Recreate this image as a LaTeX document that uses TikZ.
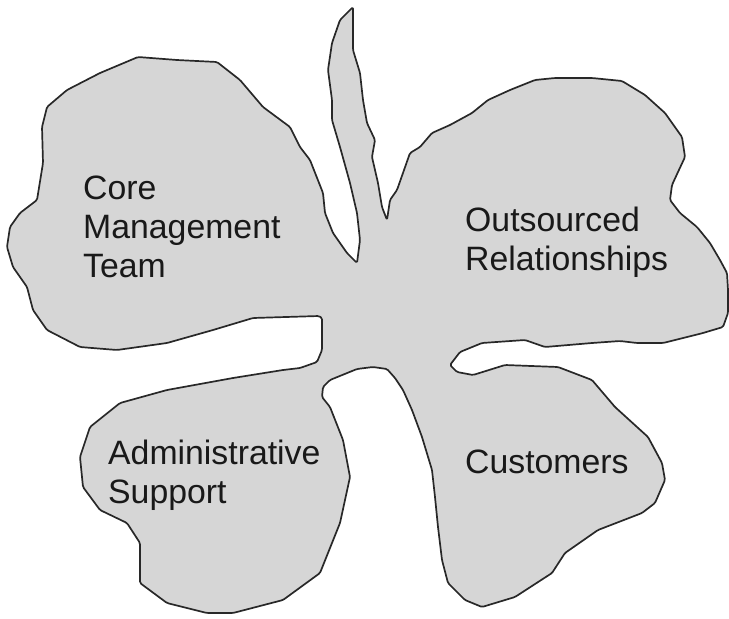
\documentclass[tikz,border=0pt]{standalone}
\usepackage{fontspec}
\setmainfont{Liberation Sans}
\begin{document}
\begin{tikzpicture}[x=1pt,y=-1pt,
  leafshape/.style={fill=leafgray,draw=edgegray,line width=1.7pt,line join=round,rounded corners=1.5pt},
  lbl/.style={anchor=base west,inner sep=0pt,align=left,text=black!90,font=\fontsize{33.8}{39}\selectfont}]
\definecolor{leafgray}{RGB}{214,214,214}
\definecolor{edgegray}{RGB}{40,40,40}
\useasboundingbox (0,0) rectangle (729,619);
\draw[leafshape]
 (353,7) -- (353,50) -- (360,73) -- (363,100) -- (367,123) -- (375,140) -- (372,157) -- (378,183) -- (382,207) -- (387,220)
 -- (390,200) -- (397,190) -- (410,153) -- (420,147) -- (432,133) -- (450,125) -- (472,113) -- (488,100) -- (510,90) -- (535,80)
 -- (555,78) -- (592,78) -- (622,81) -- (645,95) -- (665,113) -- (682,137) -- (685,157) -- (678,172) -- (672,185) -- (670,200)
 -- (680,213) -- (697,227) -- (710,243) -- (720,260) -- (727,273) -- (728,290) -- (728,313) -- (723,327) -- (703,333) -- (687,337)
 -- (663,343) -- (637,343) -- (620,341) -- (592,343) -- (545,347) -- (525,340) -- (482,343) -- (460,352) -- (450,365) -- (457,372)
 -- (473,375) -- (505,365) -- (558,367) -- (592,380) -- (615,407) -- (648,437) -- (662,463) -- (665,480) -- (655,503) -- (642,513)
 -- (598,530) -- (565,553) -- (552,573) -- (515,597) -- (482,607) -- (465,600) -- (448,583) -- (442,560) -- (438,527) -- (435,497)
 -- (432,470) -- (422,437) -- (412,410) -- (403,390) -- (395,378) -- (387,369) -- (373,367) -- (357,369) -- (330,380) -- (323,387)
 -- (322,397) -- (330,407) -- (343,440) -- (350,477) -- (340,523) -- (320,573) -- (283,600) -- (233,613) -- (207,613) -- (167,603)
 -- (140,583) -- (140,543) -- (127,523) -- (100,510) -- (83,487) -- (80,457) -- (90,427) -- (120,403) -- (167,390) -- (233,378)
 -- (283,370) -- (300,368) -- (317,362) -- (322,350) -- (322,318) -- (319,316) -- (253,318) -- (213,330) -- (167,343) -- (117,350)
 -- (80,347) -- (47,330) -- (33,310) -- (27,287) -- (13,267) -- (7,247) -- (10,227) -- (20,213) -- (37,200) -- (43,163)
 -- (42,127) -- (47,107) -- (67,90) -- (100,73) -- (138,57) -- (177,60) -- (217,62) -- (240,80) -- (263,107) -- (290,127)
 -- (300,147) -- (310,160) -- (323,193) -- (325,213) -- (333,233) -- (347,253) -- (357,263) -- (360,240) -- (357,213) -- (350,183)
 -- (340,147) -- (332,120) -- (332,100) -- (328,70) -- (332,43) -- (340,20) -- cycle;
\node[lbl] (core) at (83,277) {Core\\Management\\Team};
\node[lbl] (out) at (465,270) {Outsourced\\Relationships};
\node[lbl] (adm) at (108,503) {Administrative\\Support};
\node[lbl] (cus) at (465,473) {Customers};
\end{tikzpicture}
\end{document}
